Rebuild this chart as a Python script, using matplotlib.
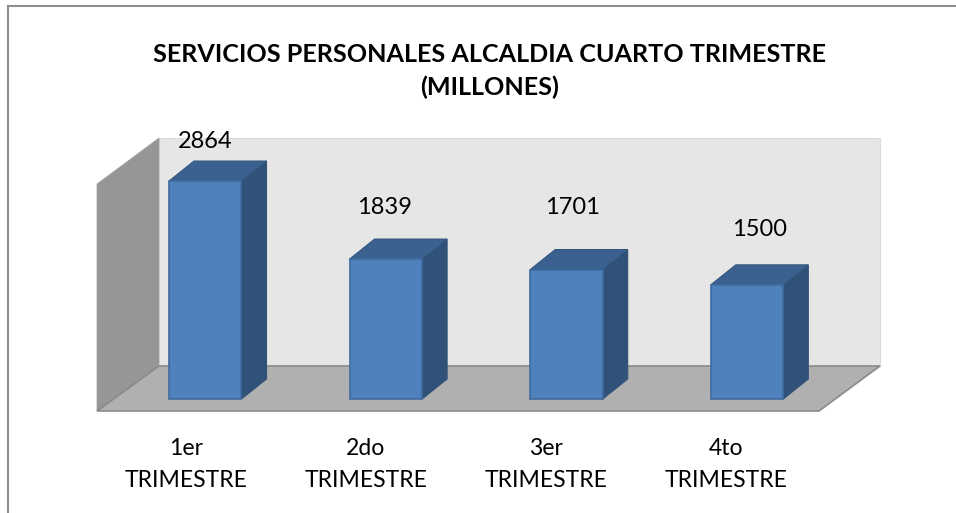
import matplotlib
matplotlib.use("Agg")
import matplotlib.pyplot as plt
from matplotlib.patches import Polygon, Rectangle

CATEGORIES = ["1er\nTRIMESTRE", "2do\nTRIMESTRE", "3er\nTRIMESTRE", "4to\nTRIMESTRE"]
VALUES = [2864, 1839, 1701, 1500]
TITLE = "SERVICIOS PERSONALES ALCALDIA CUARTO TRIMESTRE\n(MILLONES)"

W, H = 956, 513
SLOT_PX = 180.6
UNIT_PX = 0.0761
X0_PX = 205.5
Y0_PX = 399

BAR_W = 72.5 / SLOT_PX
DX = 25 / SLOT_PX
DY = 20 / UNIT_PX

# value labels were placed by hand in the original chart
LABEL_X_PX = [205, 385, 572, 760]
LABEL_Y_PX = [142, 207, 207, 230]
TICK_X_PX = [186, 366, 546, 726]

plt.rcParams["font.family"] = ["Lato", "DejaVu Sans"]

fig = plt.figure(figsize=(W / 100, H / 100), dpi=100)
ax = fig.add_axes([0, 0, 1, 1])
ax.set_xlim(-X0_PX / SLOT_PX, (W - X0_PX) / SLOT_PX)
ax.set_ylim((Y0_PX - H) / UNIT_PX, Y0_PX / UNIT_PX)
ax.axis("off")


def px(x, y):
    # pixel position in the reference -> data units, only for the chart frame and text
    return ((x - X0_PX) / SLOT_PX, (Y0_PX - y) / UNIT_PX)


# outer frame: only left and top edges are visible
ax.add_patch(Polygon([px(8, 514), px(8, 5.5), px(957, 5.5)], closed=False,
                     fill=False, edgecolor="#8c8c8c", linewidth=1.5))

# walls and floor
ax.add_patch(Polygon([px(159, 138), px(880, 138), px(880, 366), px(159, 366)],
                     facecolor="#e6e6e6", edgecolor="#dcdcdc", linewidth=0.8))
ax.add_patch(Polygon([px(97, 184), px(159, 138), px(159, 366), px(97, 411)],
                     facecolor="#969696", edgecolor="#a0a0a0", linewidth=0.5))
ax.add_patch(Polygon([px(97, 411), px(159, 366), px(880, 366), px(819, 411)],
                     facecolor="#b0b0b0", edgecolor="#8a8a8a", linewidth=1.2))

# bars
for i, value in enumerate(VALUES):
    x1 = i - 36.5 / SLOT_PX
    x2 = x1 + BAR_W
    ax.add_patch(Polygon([(x2, 0), (x2 + DX, DY), (x2 + DX, value + DY), (x2, value)],
                         facecolor="#315278", edgecolor="#315278", linewidth=0.8))
    ax.add_patch(Polygon([(x1, value), (x1 + DX, value + DY), (x2 + DX, value + DY), (x2, value)],
                         facecolor="#3a6190", edgecolor="#33587f", linewidth=0.8))
    ax.add_patch(Rectangle((x1, 0), BAR_W, value, facecolor="#4f81bd",
                           edgecolor="#3f6b9f", linewidth=1.2))
    lx, ly = px(LABEL_X_PX[i], LABEL_Y_PX[i])
    ax.text(lx, ly, str(value), ha="center", va="center", fontsize=17, color="black")
    tx, ty = px(TICK_X_PX[i], 464.5)
    ax.text(tx, ty, CATEGORIES[i], ha="center", va="center", fontsize=16.6,
            color="black", linespacing=1.6)

fig.text(489.5 / W, 1 - 71 / H, TITLE, ha="center", va="center", fontsize=18.1,
         fontweight="bold", color="black", linespacing=1.45)

fig.savefig("out.png", dpi=100)
